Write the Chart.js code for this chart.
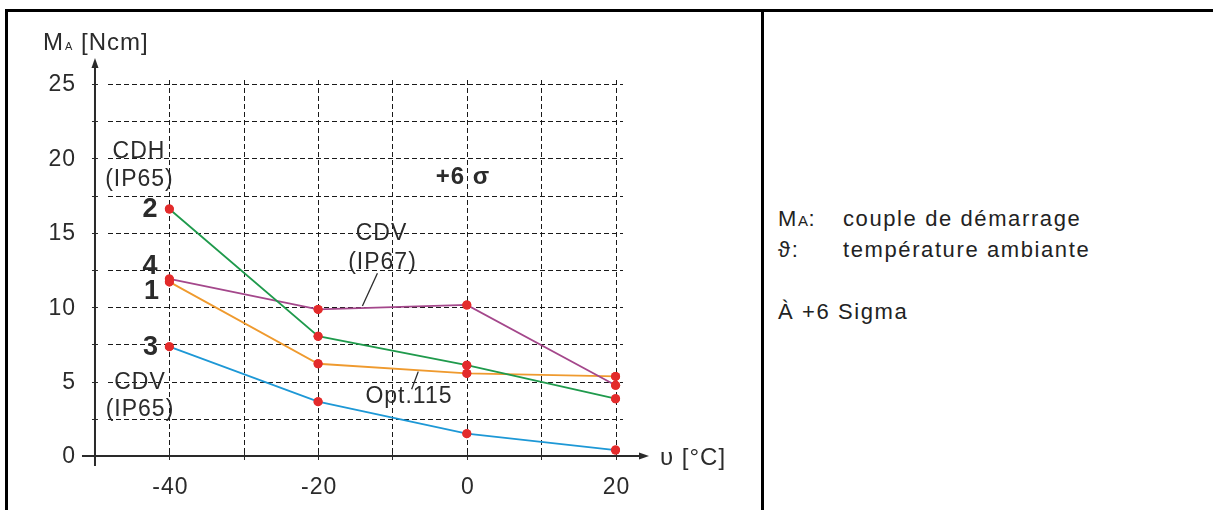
<!DOCTYPE html>
<html>
<head>
<meta charset="utf-8">
<script src="https://cdn.jsdelivr.net/npm/chart.js@4.4.1/dist/chart.umd.min.js"></script>
<style>
  html, body { margin: 0; padding: 0; background: #fff; }
  body { width: 1213px; height: 510px; position: relative; overflow: hidden; font-family: "Liberation Sans", Arial, sans-serif; color: #222; }
  #chart { position: absolute; left: 0; top: 0; }
  .rule { position: absolute; background: #000; }
  .row { position: absolute; font-size: 22px; line-height: 22px; letter-spacing: 1.6px; white-space: nowrap; }
  .small { font-size: 15px; letter-spacing: 0.5px; }
</style>
</head>
<body>
<div class="rule" style="left:6px; top:9px; width:1207px; height:3px;"></div>
<div class="rule" style="left:5px; top:9px; width:3px; height:501px;"></div>
<div class="rule" style="left:761px; top:9px; width:3px; height:501px;"></div>

<div class="row" style="left:778px; top:208px;">M<span class="small">A</span>:</div>
<div class="row" style="left:843px; top:208px;">couple de démarrage</div>
<div class="row" style="left:778px; top:239px;">ϑ:</div>
<div class="row" style="left:843px; top:239px;">température ambiante</div>
<div class="row" style="left:778px; top:301px;">À +6 Sigma</div>

<canvas id="chart" width="1213" height="510"></canvas>

<script>
// valeurs (M_A en Ncm selon la température)
const temps = [-40, -20, 0, 20];
const cdhIp65 = [16.6, 8.05, 6.1, 3.85];   // 2 - vert
const cdvIp67 = [11.9, 9.85, 10.15, 4.75]; // 4 - violet
const opt115 = [11.7, 6.2, 5.55, 5.35];    // 1 - orange
const cdvIp65 = [7.35, 3.65, 1.5, 0.4];    // 3 - bleu

const xTickLabels = [-40, -20, 0, 20];
const yTickLabels = [0, 5, 10, 15, 20, 25];
const xGridValues = [-40, -30, -20, -10, 0, 10, 20];
const yGridValues = [2.5, 5, 7.5, 10, 12.5, 15, 17.5, 20, 22.5, 25];

// textes posés dans le repère (valeurs x/y du graphique)
const notes = [
  { text: "CDH", x: -44.08, y: 20.43 },
  { text: "(IP65)", x: -44.02, y: 18.55 },
  { text: "2", x: -42.54, y: 16.53, bold: true },
  { text: "4", x: -42.54, y: 12.7, bold: true },
  { text: "1", x: -42.34, y: 11.02, bold: true },
  { text: "3", x: -42.47, y: 7.29, bold: true },
  { text: "CDV", x: -43.95, y: 4.91 },
  { text: "(IP65)", x: -43.95, y: 3.09 },
  { text: "CDV", x: -11.48, y: 14.92 },
  { text: "(IP67)", x: -11.34, y: 13.0 },
  { text: "Opt.115", x: -7.78, y: 3.97 },
  { text: "+6 σ", x: -0.52, y: 18.75, bold: true, size: 24 },
];
const leaders = [
  [-12.02, 12.28, -14.04, 10.08],
  [-6.53, 5.67, -7.42, 4.48],
];

const FONT = '"Liberation Sans", Arial, sans-serif';

function toPoints(values) {
  return temps.map((t, i) => ({ x: t, y: values[i] }));
}

function serie(values, color) {
  return {
    data: toPoints(values),
    borderColor: color,
    borderWidth: 1.8,
    pointRadius: 4.5,
    pointBackgroundColor: "#e32b2b",
    pointBorderWidth: 0,
    tension: 0,
    fill: false,
    clip: false,
  };
}

const schemaPlugin = {
  id: "schema",
  beforeDatasetsDraw(chart) {
    const { ctx, chartArea } = chart;
    const xs = chart.scales.x, ys = chart.scales.y;
    const ax = xs.getPixelForValue(-50);
    const ay = ys.getPixelForValue(0);
    ctx.save();

    // grille pointillée
    ctx.strokeStyle = "#1a1a1a";
    ctx.lineWidth = 1;
    ctx.setLineDash([5, 3]);
    xGridValues.forEach((v) => {
      const p = Math.round(xs.getPixelForValue(v)) + 0.5;
      ctx.beginPath();
      ctx.moveTo(p, chartArea.top);
      ctx.lineTo(p, ay);
      ctx.stroke();
    });
    yGridValues.forEach((v) => {
      const p = Math.round(ys.getPixelForValue(v)) + 0.5;
      ctx.beginPath();
      ctx.moveTo(chartArea.left, p);
      ctx.lineTo(chartArea.right, p);
      ctx.stroke();
    });
    ctx.setLineDash([]);

    // axes avec flèches
    ctx.strokeStyle = "#2a2a2a";
    ctx.fillStyle = "#2a2a2a";
    ctx.lineWidth = 2;
    ctx.beginPath();
    ctx.moveTo(ax, ay + 10);
    ctx.lineTo(ax, 66);
    ctx.moveTo(ax - 13, ay);
    ctx.lineTo(chartArea.right + 18, ay);
    ctx.stroke();
    ctx.beginPath();
    ctx.moveTo(ax, 58);
    ctx.lineTo(ax - 3.5, 68);
    ctx.lineTo(ax + 3.5, 68);
    ctx.closePath();
    ctx.fill();
    const tipX = chartArea.right + 26;
    ctx.beginPath();
    ctx.moveTo(tipX, ay);
    ctx.lineTo(tipX - 10, ay - 3.5);
    ctx.lineTo(tipX - 10, ay + 3.5);
    ctx.closePath();
    ctx.fill();

    // petites graduations
    ctx.lineWidth = 1;
    yGridValues.forEach((v) => {
      const p = Math.round(ys.getPixelForValue(v)) + 0.5;
      ctx.beginPath();
      ctx.moveTo(ax - 3, p);
      ctx.lineTo(ax + 3, p);
      ctx.stroke();
    });
    xGridValues.forEach((v) => {
      const p = Math.round(xs.getPixelForValue(v)) + 0.5;
      ctx.beginPath();
      ctx.moveTo(p, ay - 3);
      ctx.lineTo(p, ay + 4);
      ctx.stroke();
    });
    ctx.restore();
  },
  afterDatasetsDraw(chart) {
    // points rouges au-dessus de toutes les courbes
    chart.data.datasets.forEach((ds, i) => {
      chart.getDatasetMeta(i).data.forEach((pt) => pt.draw(chart.ctx, chart.chartArea));
    });
  },
  afterDraw(chart) {
    const { ctx, chartArea } = chart;
    const xs = chart.scales.x, ys = chart.scales.y;
    const ax = xs.getPixelForValue(-50);
    const ay = ys.getPixelForValue(0);
    ctx.save();
    ctx.fillStyle = "#2b2b2b";
    ctx.textBaseline = "middle";
    ctx.letterSpacing = "1px";

    // libellés des axes
    ctx.font = "23px " + FONT;
    ctx.textAlign = "right";
    yTickLabels.forEach((v) => ctx.fillText(String(v), ax - 19, ys.getPixelForValue(v) + 1));
    ctx.textAlign = "center";
    xTickLabels.forEach((v) => ctx.fillText(String(v), xs.getPixelForValue(v) + 1, ay + 32));

    ctx.textAlign = "left";
    ctx.textBaseline = "alphabetic";
    ctx.font = "24px " + FONT;
    ctx.fillText("M", ax - 52, 50);
    ctx.font = "11px " + FONT;
    ctx.fillText("A", ax - 30, 50);
    ctx.font = "24px " + FONT;
    ctx.fillText("[Ncm]", ax - 14, 50);
    ctx.fillText("υ [°C]", chartArea.right + 37, ay + 9);

    // annotations
    ctx.textBaseline = "middle";
    ctx.textAlign = "center";
    notes.forEach((n) => {
      const size = n.size || (n.bold ? 27 : 23);
      ctx.font = (n.bold ? "bold " : "") + size + "px " + FONT;
      ctx.fillText(n.text, xs.getPixelForValue(n.x), ys.getPixelForValue(n.y));
    });
    ctx.strokeStyle = "#2b2b2b";
    ctx.lineWidth = 1.3;
    leaders.forEach((l) => {
      ctx.beginPath();
      ctx.moveTo(xs.getPixelForValue(l[0]), ys.getPixelForValue(l[1]));
      ctx.lineTo(xs.getPixelForValue(l[2]), ys.getPixelForValue(l[3]));
      ctx.stroke();
    });
    ctx.restore();
  },
};

new Chart(document.getElementById("chart"), {
  type: "line",
  data: {
    datasets: [
      serie(cdhIp65, "#1f9a4c"),
      serie(cdvIp67, "#a4478b"),
      serie(opt115, "#ef9a2e"),
      serie(cdvIp65, "#1d98d6"),
    ],
  },
  options: {
    responsive: false,
    devicePixelRatio: 1,
    animation: false,
    layout: { padding: { left: 108, right: 590, top: 80, bottom: 54 } },
    plugins: { legend: { display: false }, tooltip: { enabled: false } },
    scales: {
      x: { type: "linear", min: -48.25, max: 21, display: false },
      y: { type: "linear", min: 0, max: 25.27, display: false },
    },
  },
  plugins: [schemaPlugin],
});
</script>
</body>
</html>
